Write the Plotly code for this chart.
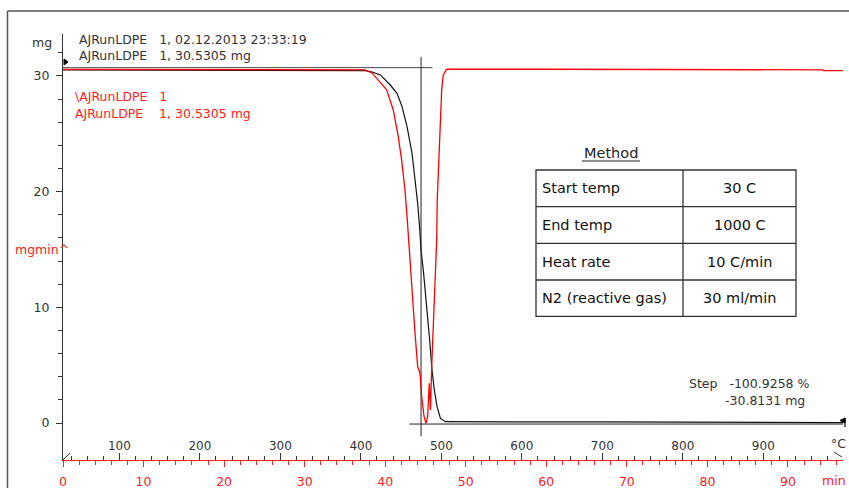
import plotly.graph_objects as go

# ---------------- data ----------------
# TG curve: sample mass (mg) vs temperature (°C)
tg_temp = [30, 100, 200, 300, 387, 405.6, 414.3, 424.2, 436.6, 444.9, 451.2, 457.4, 463.6,
           467.7, 470.6, 473.0, 474.8, 478.0, 482.2, 485.5, 488.4, 491.3, 494.7, 498.8,
           505.0, 520, 600, 700, 800, 900, 950, 999]
tg_mass = [30.53, 30.53, 30.53, 30.53, 30.53, 30.47, 30.34, 30.09, 29.22, 28.50, 27.35,
           25.62, 23.32, 21.01, 18.99, 16.97, 14.96, 12.94, 10.05, 7.18, 4.58, 2.85, 1.41,
           0.41, 0.11, 0.10, 0.10, 0.09, 0.08, 0.06, 0.05, 0.04]

# DTG curve: mass-loss rate (mg/min) vs time (min)
dtg_time = [0, 20, 36.0, 37.49, 38.36, 39.35, 40.18, 41.00, 41.62, 42.04, 42.45, 42.74,
            42.99, 43.29, 43.70, 44.03, 44.32, 44.53, 44.82, 45.06, 45.27, 45.47, 45.62,
            45.77, 45.97, 46.18, 46.39, 46.46, 46.80, 47.01, 47.21, 47.63, 60, 89.6, 89.7,
            94.3, 94.4, 96.8]
dtg_rate = [0.015, 0.015, 0.015, -0.003, -0.08, -0.31, -0.52, -1.04, -1.73, -2.34, -3.11,
            -3.89, -4.67, -5.71, -6.83, -7.70, -7.86, -8.48, -8.99, -9.17, -8.99, -8.13,
            -8.82, -7.70, -6.57, -5.53, -4.41, -3.37, -1.47, -0.52, -0.13, 0.016, 0.016,
            0.016, 0.0, 0.0, -0.02, -0.02]

header_lines = ["AJRunLDPE\u00a0\u00a0\u00a01, 02.12.2013 23:33:19",
                "AJRunLDPE\u00a0\u00a0\u00a01, 30.5305 mg"]
red_lines = ["\\AJRunLDPE\u00a0\u00a0\u00a01",
             "AJRunLDPE\u00a0\u00a0\u00a0\u00a01, 30.5305 mg"]
step_pct = "-100.9258 %"
step_mg = "-30.8131 mg"
method_params = ["Start temp", "End temp", "Heat rate", "N2 (reactive gas)"]
method_values = ["30 C", "1000 C", "10 C/min", "30 ml/min"]

# step evaluation lines (data units)
step_top_mass = 30.72
step_bottom_mass = -0.09
step_temp = 474.8

# ---------------- figure ----------------
W, H = 849, 488
FONT = "DejaVu Sans"
DARK = "#333333"


def px(x):
    return x / W


def py(y):
    return 1 - y / H


fig = go.Figure()

fig.add_trace(go.Scatter(x=dtg_time, y=dtg_rate, xaxis="x2", yaxis="y2", mode="lines",
                         line=dict(color="#ff0000", width=1.3), hoverinfo="skip"))
fig.add_trace(go.Scatter(x=tg_temp, y=tg_mass, mode="lines",
                         line=dict(color="#111111", width=1.2), hoverinfo="skip"))

# step lines
fig.add_trace(go.Scatter(x=[30, 489], y=[step_top_mass, step_top_mass], mode="lines",
                         line=dict(color="#444444", width=1), hoverinfo="skip"))
fig.add_trace(go.Scatter(x=[step_temp, step_temp], y=[31.65, -1.15], mode="lines",
                         line=dict(color="#222222", width=1), hoverinfo="skip",
                         cliponaxis=False))
fig.add_trace(go.Scatter(x=[460.4, 999], y=[step_bottom_mass, step_bottom_mass], mode="lines",
                         line=dict(color="#222222", width=1), hoverinfo="skip"))

xdom = [63 / W, 843 / W]
ydom = [(H - 460) / H, (H - 34) / H]
yr = [-3.199, 33.63]
k = 0.3
y2r = [(yr[0] - 30.53) * k, (yr[1] - 30.53) * k]

fig.update_layout(
    width=W, height=H, autosize=False,
    margin=dict(l=0, r=0, t=0, b=0, pad=0),
    paper_bgcolor="white", plot_bgcolor="white",
    showlegend=False,
    font=dict(family=FONT, size=12, color=DARK),
    xaxis=dict(domain=xdom, range=[30, 999], showgrid=False, zeroline=False,
               automargin=False,
               showline=False, ticks="inside", ticklen=7, tickcolor=DARK, tickwidth=1,
               tick0=0, dtick=100, ticklabelposition="inside",
               tickfont=dict(family=FONT, size=12, color=DARK),
               minor=dict(dtick=20, tick0=0, ticks="inside", ticklen=4, tickcolor=DARK,
                          showgrid=False)),
    xaxis2=dict(overlaying="x", anchor="y", side="bottom", range=[0, 96.83],
                automargin=False,
                showgrid=False, zeroline=False, showline=True, linecolor="#ff2020",
                linewidth=1, ticks="outside", ticklen=6, tickcolor="#ff2020",
                tick0=0, dtick=10, ticklabelstandoff=4,
                tickfont=dict(family=FONT, size=12.5, color="#ff2020"),
                minor=dict(dtick=2, tick0=0, ticks="outside", ticklen=4,
                           tickcolor="#ff2020", showgrid=False)),
    yaxis=dict(domain=ydom, range=yr, showgrid=False, zeroline=False, showline=True,
               automargin=False,
               linecolor=DARK, linewidth=1, ticks="outside", ticklen=6, tickcolor=DARK,
               tick0=0, dtick=10, ticklabelstandoff=4,
               tickfont=dict(family=FONT, size=12.5, color=DARK),
               minor=dict(dtick=2, tick0=0, ticks="outside", ticklen=4, tickcolor=DARK,
                          showgrid=False)),
    yaxis2=dict(overlaying="y", anchor="x2", range=y2r, visible=False, automargin=False),
)

shapes = []
# outer frame
shapes.append(dict(type="line", xref="paper", yref="paper", x0=px(7.5), x1=px(7.5),
                   y0=py(11), y1=py(488), line=dict(color="#555555", width=1.5)))
shapes.append(dict(type="line", xref="paper", yref="paper", x0=px(7.5), x1=px(849),
                   y0=py(11), y1=py(11), line=dict(color="#555555", width=1.5)))
# axis end marks
shapes.append(dict(type="line", xref="paper", yref="paper", x0=px(63), x1=px(70),
                   y0=py(460), y1=py(453), line=dict(color=DARK, width=1)))
shapes.append(dict(type="line", xref="paper", yref="paper", x0=px(834), x1=px(842),
                   y0=py(452), y1=py(457), line=dict(color=DARK, width=1)))
# cursor markers
shapes.append(dict(type="path", xref="paper", yref="paper",
                   path=f"M {px(64)} {py(59)} L {px(68)} {py(62)} L {px(64)} {py(65)} Z",
                   fillcolor="black", line=dict(color="black", width=1)))
shapes.append(dict(type="path", xref="paper", yref="paper",
                   path=f"M {px(845)} {py(418)} L {px(840)} {py(420.5)} L {px(845)} {py(423)} Z",
                   fillcolor="black", line=dict(color="black", width=1)))
shapes.append(dict(type="line", xref="paper", yref="paper", x0=px(845), x1=px(845),
                   y0=py(418), y1=py(427), line=dict(color="black", width=1.2)))

# method table
tx0, tx1, txm = 536, 796, 683
row_y = [170, 206.7, 243.3, 280, 316.3]
shapes.append(dict(type="rect", xref="paper", yref="paper", x0=px(tx0), x1=px(tx1),
                   y0=py(row_y[0]), y1=py(row_y[-1]), line=dict(color=DARK, width=1.3)))
for ry in row_y[1:-1]:
    shapes.append(dict(type="line", xref="paper", yref="paper", x0=px(tx0), x1=px(tx1),
                       y0=py(ry), y1=py(ry), line=dict(color=DARK, width=1.3)))
shapes.append(dict(type="line", xref="paper", yref="paper", x0=px(txm), x1=px(txm),
                   y0=py(row_y[0]), y1=py(row_y[-1]), line=dict(color=DARK, width=1.3)))
# underline for "Method"
shapes.append(dict(type="line", xref="paper", yref="paper", x0=px(582), x1=px(640),
                   y0=py(161), y1=py(161), line=dict(color="#222222", width=1)))
fig.update_layout(shapes=shapes)

ann = []


def text(x, y, s, color=DARK, size=12.5, xanchor="left"):
    ann.append(dict(x=px(x), y=py(y), xref="paper", yref="paper", text=s, showarrow=False,
                    xanchor=xanchor, yanchor="middle",
                    font=dict(family=FONT, size=size, color=color)))


text(42, 42, "mg", xanchor="center")
text(77, 40, header_lines[0])
text(77, 55, header_lines[1])
text(73, 97, red_lines[0], color="#ff2020")
text(73, 113, red_lines[1], color="#ff2020")
text(13, 249, "mgmin^", color="#ff2020")
text(687, 383, "Step\u00a0\u00a0\u00a0" + step_pct, size=12.5)
text(723, 400, step_mg, size=12.5)
text(838, 443, "°C", xanchor="center")
text(834, 480, "min", color="#ff2020", xanchor="center")

text(611, 153, "Method", size=14.5, color="#222222", xanchor="center")
for i, (p, v) in enumerate(zip(method_params, method_values)):
    cy = (row_y[i] + row_y[i + 1]) / 2
    text(540, cy, p, size=14.5, color="#111111")
    text((txm + tx1) / 2, cy, v, size=14.5, color="#111111", xanchor="center")

fig.update_layout(annotations=ann)

fig.write_html("out.html")
